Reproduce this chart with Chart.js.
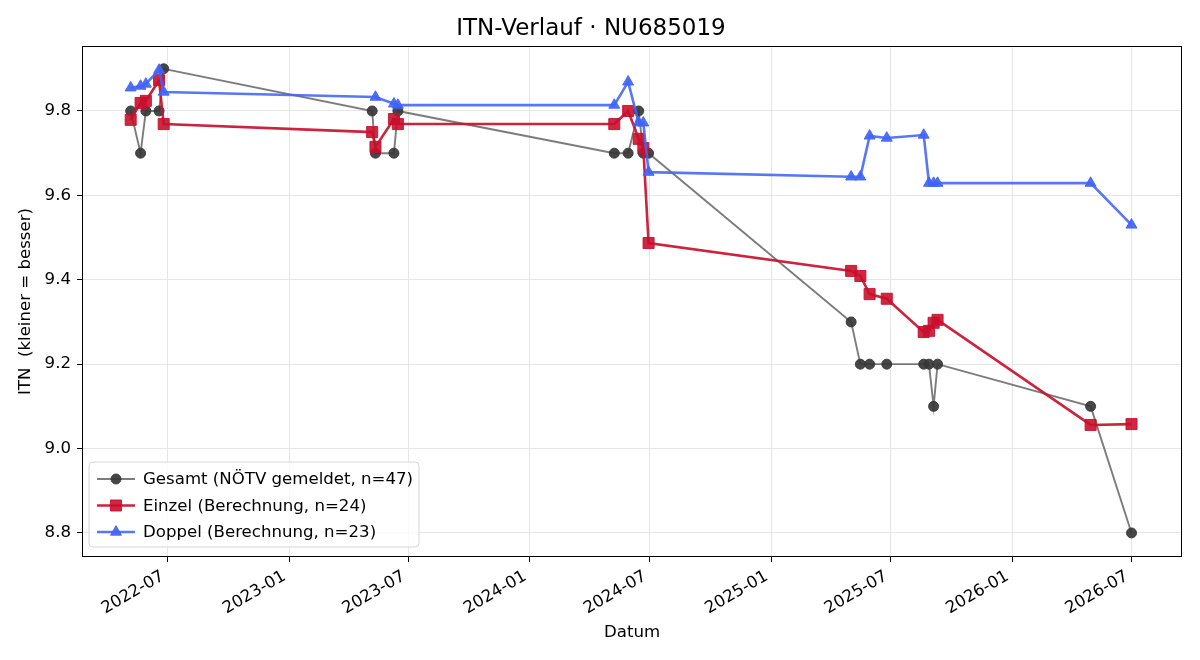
<!DOCTYPE html>
<html><head><meta charset="utf-8">
<script src="https://cdn.jsdelivr.net/npm/chart.js@4/dist/chart.umd.min.js"></script>
<style>html,body{margin:0;padding:0;background:#fff}</style>
</head><body>
<canvas id="c" width="1200" height="660"></canvas>
<script>
// ---------- DATA ----------
const chartTitle = 'ITN-Verlauf · NU685019';
const seriesNames = ['Gesamt (NÖTV gemeldet, n=47)', 'Einzel (Berechnung, n=24)', 'Doppel (Berechnung, n=23)'];

const gesamtDates = ['2022-05-06','2022-05-21','2022-05-29','2022-06-18','2022-06-25',
  '2023-05-07','2023-05-12','2023-06-09','2023-06-15',
  '2024-05-08','2024-05-29','2024-06-14','2024-06-21','2024-06-29',
  '2025-05-02','2025-05-16','2025-05-30','2025-06-25','2025-08-20','2025-08-28','2025-09-04','2025-09-10',
  '2026-04-30','2026-07-01'];
const gesamtValues = [9.8,9.7,9.8,9.8,9.9,
  9.8,9.7,9.7,9.8,
  9.7,9.7,9.8,9.7,9.7,
  9.3,9.2,9.2,9.2,9.2,9.2,9.1,9.2,
  9.1,8.8];

const einzelDates = ['2022-05-06','2022-05-21','2022-05-29','2022-06-18','2022-06-25',
  '2023-05-07','2023-05-12','2023-06-09','2023-06-15',
  '2024-05-08','2024-05-29','2024-06-14','2024-06-21','2024-06-29',
  '2025-05-02','2025-05-16','2025-05-30','2025-06-25','2025-08-20','2025-08-28','2025-09-04','2025-09-10',
  '2026-04-30','2026-07-01'];
const einzelValues = [9.779,9.819,9.824,9.873,9.769,
  9.750,9.715,9.781,9.769,
  9.769,9.800,9.734,9.712,9.487,
  9.421,9.409,9.366,9.355,9.276,9.279,9.298,9.305,
  9.056,9.058];

const doppelDates = ['2022-05-06','2022-05-21','2022-05-29','2022-06-18','2022-06-25',
  '2023-05-12','2023-06-09','2023-06-15',
  '2024-05-08','2024-05-29','2024-06-14','2024-06-21','2024-06-29',
  '2025-05-02','2025-05-16','2025-05-30','2025-06-25','2025-08-20','2025-08-28','2025-09-04','2025-09-10',
  '2026-04-30','2026-07-01'];
const doppelValues = [9.855,9.859,9.864,9.897,9.845,
  9.833,9.817,9.814,
  9.814,9.869,9.772,9.772,9.655,
  9.644,9.644,9.741,9.736,9.743,9.629,9.629,9.629,
  9.629,9.530];

const xTickLabels = ['2022-07','2023-01','2023-07','2024-01','2024-07','2025-01','2025-07','2026-01','2026-07'];
const yTicks = [8.8, 9.0, 9.2, 9.4, 9.6, 9.8];
const xLabel = 'Datum';
const yLabel = 'ITN  (kleiner = besser)';

// ---------- HELPERS ----------
const FONT = "'DejaVu Sans', sans-serif";
const FS = 16.6;
function ts(s){ const p = s.split('-').map(Number); return Date.UTC(p[0], p[1]-1, p[2] || 1); }
const DAY = 86400000;
const xMin = ts('2022-02-22') - 0.8*DAY;
const xMax = ts('2026-09-16') - 0.5*DAY;

function pts(d, v){ return d.map((s,i)=>({x: ts(s), y: v[i]})); }

const styles = [
  {line:'rgba(68,68,68,0.7)', fill:'rgba(55,55,55,0.92)', width:1.9, shape:'circle', r:5},
  {line:'rgba(200,16,46,0.92)', fill:'rgba(200,16,46,0.9)', width:2.6, shape:'rect', r:7.8},
  {line:'rgba(65,100,245,0.88)', fill:'rgba(65,100,245,0.92)', width:2.6, shape:'triangle', r:6.3}
];
const dataSets = [pts(gesamtDates,gesamtValues), pts(einzelDates,einzelValues), pts(doppelDates,doppelValues)];

function drawMarker(ctx, shape, x, y, r, color){
  ctx.save();
  ctx.fillStyle = color; ctx.strokeStyle = color; ctx.lineWidth = 1;
  ctx.beginPath();
  if (shape === 'circle') { ctx.arc(x, y, r, 0, Math.PI*2); }
  else if (shape === 'rect') { const s = Math.SQRT1_2*r; ctx.rect(x-s, y-s, 2*s, 2*s); }
  else { ctx.moveTo(x, y - r); ctx.lineTo(x + r*0.866, y + r*0.5); ctx.lineTo(x - r*0.866, y + r*0.5); ctx.closePath(); }
  ctx.fill(); ctx.stroke();
  ctx.restore();
}

const framePlugin = {
  id: 'frame',
  afterDatasetsDraw(chart){
    const {ctx, chartArea: a} = chart;
    ctx.save();
    ctx.strokeStyle = '#000'; ctx.lineWidth = 1;
    ctx.strokeRect(Math.round(a.left)+0.5, Math.round(a.top)+0.5, Math.round(a.right-a.left)-1, Math.round(a.bottom-a.top)-1);
    ctx.restore();
  },
  afterDraw(chart){
    const {ctx, chartArea: a} = chart;
    const bx = a.left + 7, by = a.bottom - 95, bw = 330, bh = 85, rr = 4;
    ctx.save();
    ctx.beginPath();
    ctx.moveTo(bx+rr, by); ctx.lineTo(bx+bw-rr, by); ctx.quadraticCurveTo(bx+bw, by, bx+bw, by+rr);
    ctx.lineTo(bx+bw, by+bh-rr); ctx.quadraticCurveTo(bx+bw, by+bh, bx+bw-rr, by+bh);
    ctx.lineTo(bx+rr, by+bh); ctx.quadraticCurveTo(bx, by+bh, bx, by+bh-rr);
    ctx.lineTo(bx, by+rr); ctx.quadraticCurveTo(bx, by, bx+rr, by); ctx.closePath();
    ctx.fillStyle = 'rgba(255,255,255,0.8)'; ctx.fill();
    ctx.strokeStyle = '#d6d6d6'; ctx.lineWidth = 1; ctx.stroke();
    ctx.font = FS + 'px ' + FONT; ctx.textBaseline = 'middle'; ctx.textAlign = 'left'; ctx.fillStyle = '#000';
    seriesNames.forEach((name, i) => {
      const cy = by + 17 + i*26.5;
      const st = styles[i];
      ctx.strokeStyle = st.line; ctx.lineWidth = st.width;
      ctx.beginPath(); ctx.moveTo(bx+8, cy); ctx.lineTo(bx+46, cy); ctx.stroke();
      drawMarker(ctx, st.shape, bx+27, cy, st.r, st.fill);
      ctx.fillStyle = '#000';
      ctx.fillText(name, bx+54, cy+1);
    });
    ctx.restore();
  }
};

const datasets = dataSets.map((d, i) => ({
  label: seriesNames[i],
  data: d,
  borderColor: styles[i].line,
  borderWidth: styles[i].width,
  pointStyle: styles[i].shape,
  pointRadius: styles[i].r,
  pointBackgroundColor: styles[i].fill,
  pointBorderColor: styles[i].fill,
  pointBorderWidth: 1,
  pointHoverRadius: styles[i].r,
  tension: 0,
  fill: false,
  order: 2 - i
}));

new Chart(document.getElementById('c'), {
  type: 'line',
  data: { datasets },
  options: {
    responsive: false,
    animation: false,
    devicePixelRatio: 1,
    layout: { padding: { left: 0, right: 18, top: 0, bottom: 0 } },
    plugins: {
      legend: { display: false },
      tooltip: { enabled: false },
      title: { display: true, text: chartTitle, color: '#000',
        font: { family: FONT, size: 23, weight: 'normal' }, padding: { top: 15, bottom: 3.4 } }
    },
    scales: {
      x: {
        type: 'linear', min: xMin, max: xMax,
        afterFit(s){ s.height = 103; },
        afterBuildTicks(s){ s.ticks = xTickLabels.map(l => ({ value: ts(l + '-01') })); },
        ticks: { autoSkip: false, minRotation: 30, maxRotation: 30, color: '#000', padding: 2,
          font: { family: FONT, size: FS },
          callback(v){ const d = new Date(v); return d.getUTCFullYear() + '-' + String(d.getUTCMonth()+1).padStart(2,'0') + ' '; } },
        grid: { color: '#e6e6e6', lineWidth: 1, tickColor: '#000', tickLength: 5, tickWidth: 1 },
        border: { display: false },
        title: { display: true, text: xLabel, color: '#000', font: { family: FONT, size: FS }, padding: { top: 0, bottom: 17 } }
      },
      y: {
        type: 'linear', min: 8.743, max: 9.954,
        afterFit(s){ s.width = 82; },
        afterBuildTicks(s){ s.ticks = yTicks.map(v => ({ value: v })); },
        ticks: { color: '#000', padding: 6, font: { family: FONT, size: FS },
          callback(v){ return Number(v).toFixed(1); } },
        grid: { color: '#e6e6e6', lineWidth: 1, tickColor: '#000', tickLength: 5, tickWidth: 1 },
        border: { display: false },
        title: { display: true, text: yLabel, color: '#000', font: { family: FONT, size: FS }, padding: { top: 16, bottom: 0 } }
      }
    }
  },
  plugins: [framePlugin]
});
</script>
</body></html>
